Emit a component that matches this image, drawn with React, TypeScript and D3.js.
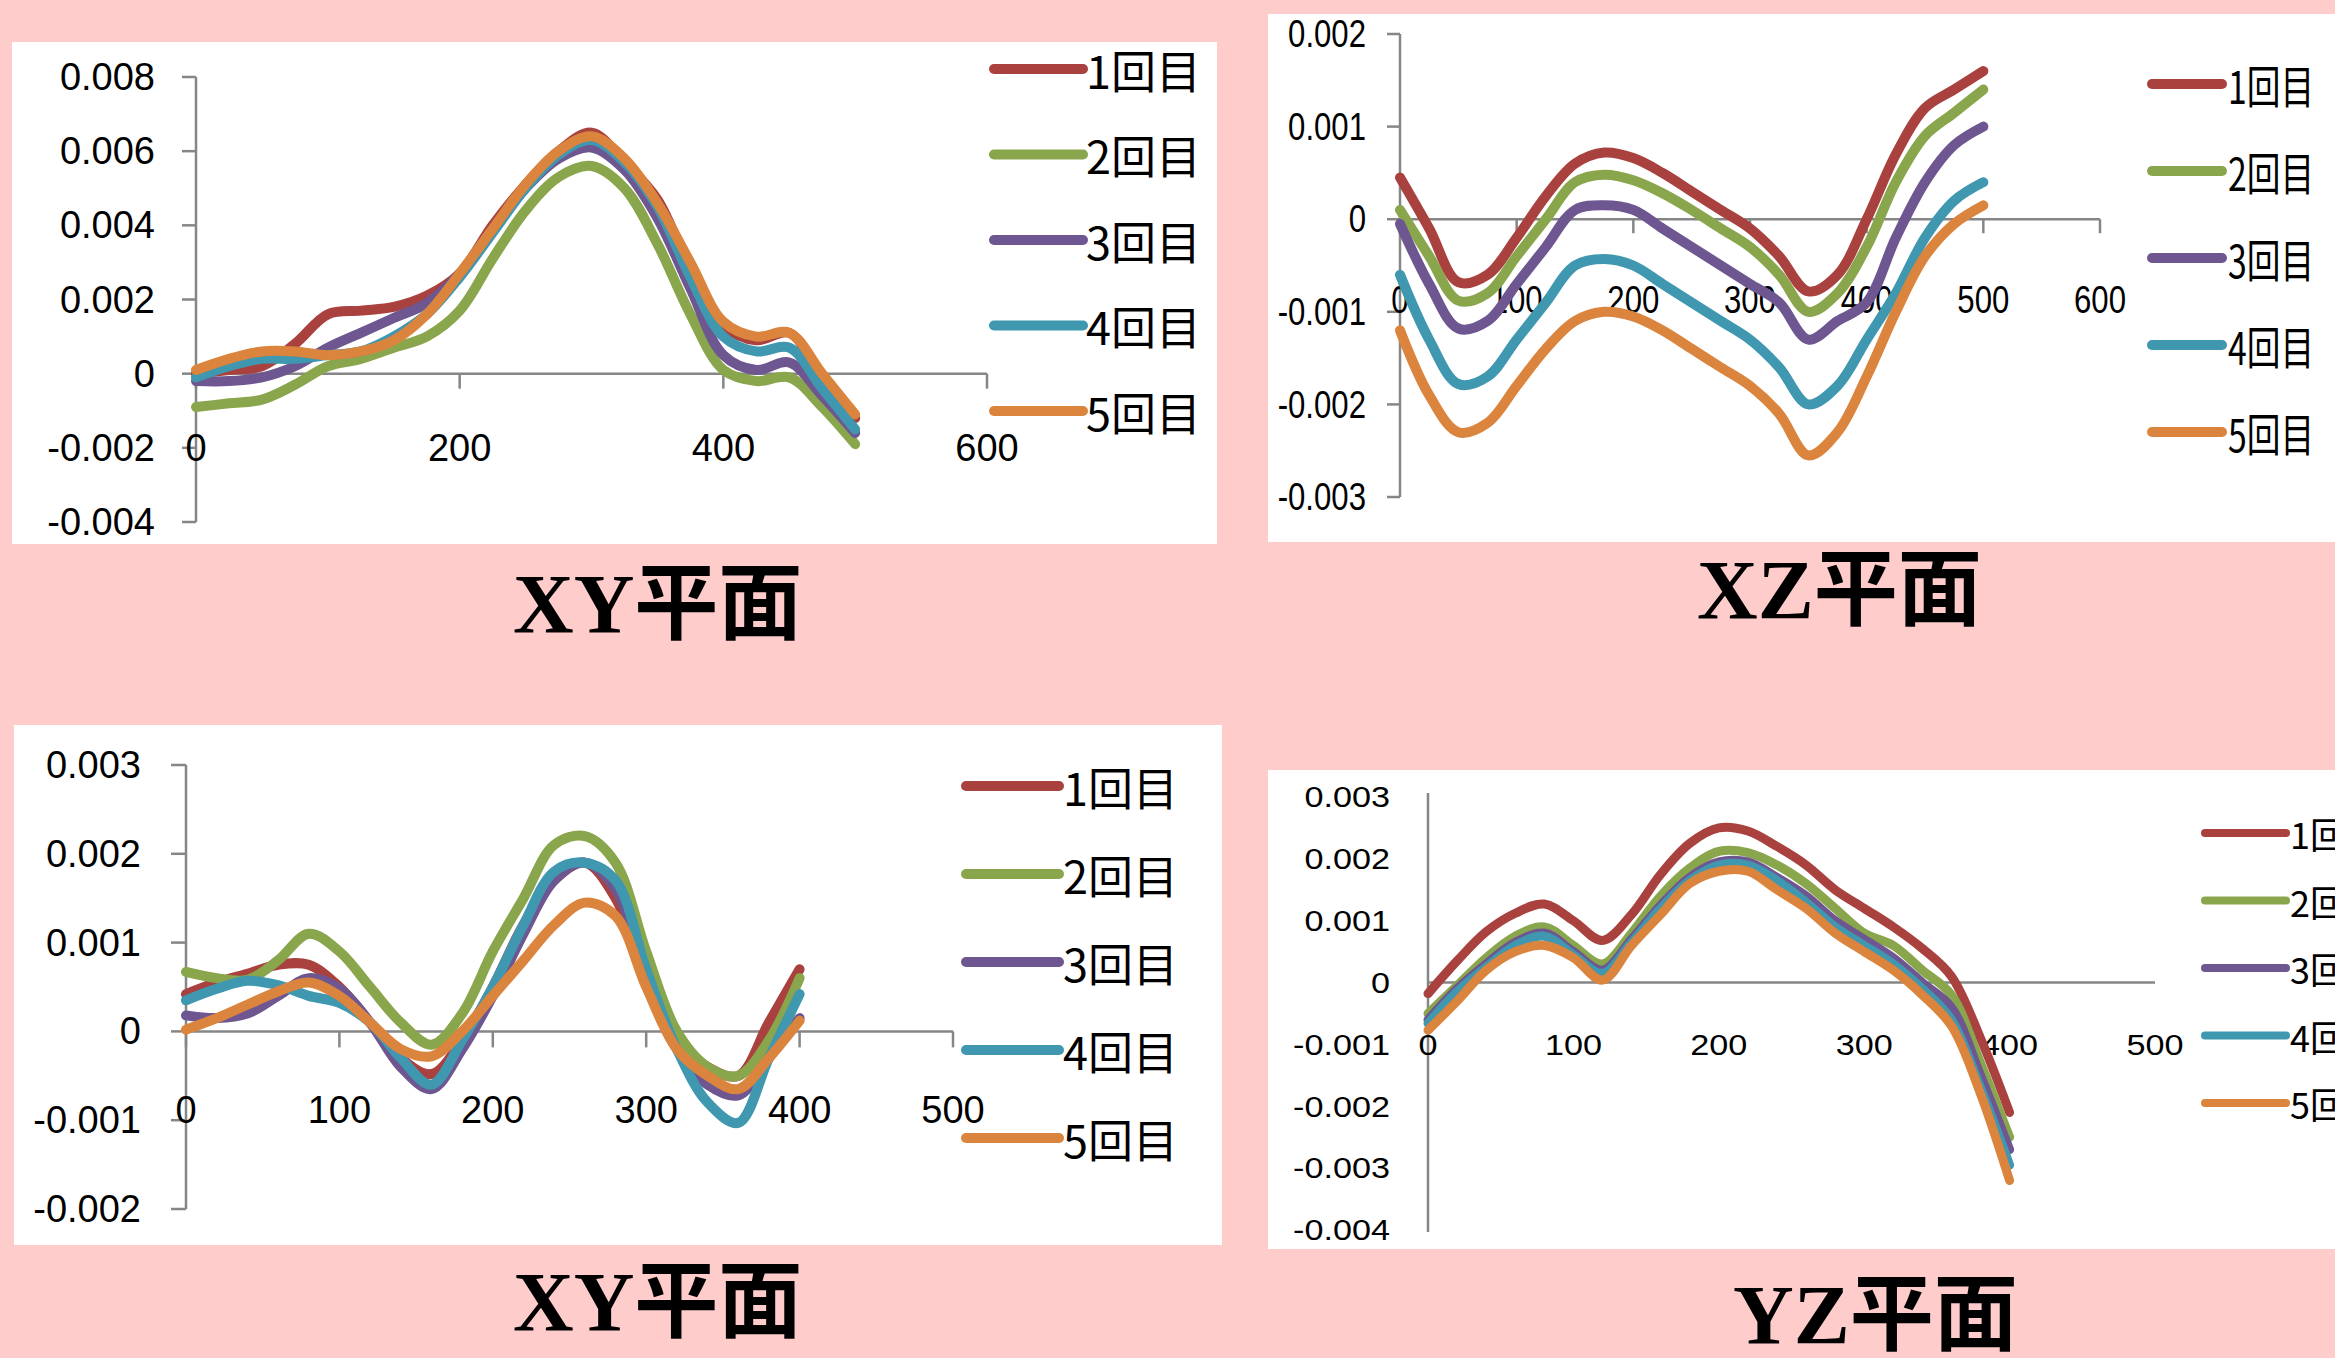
import React from "react";
import * as d3 from "d3";

// ---------- data ----------
const SERIES_NAMES = ["1回目", "2回目", "3回目", "4回目", "5回目"];
const COLORS = ["#A9423F", "#8AA64C", "#6E5691", "#3F97B0", "#DB843D"];

// Panel A : XY (top-left)
const A_X = [0, 25, 50, 75, 100, 125, 150, 175, 200, 225, 250, 275, 300, 325, 350, 375, 400, 425, 450, 475, 500];
const A_S1 = [0.0000, 0.0001, 0.0002, 0.0008, 0.0016, 0.0017, 0.0018, 0.0021, 0.0027, 0.0040, 0.0051, 0.0060, 0.0065, 0.0057, 0.0047, 0.0028, 0.0013, 0.0009, 0.0011, -0.0001, -0.0012];
const A_S2 = [-0.0009, -0.0008, -0.0007, -0.0003, 0.0002, 0.0004, 0.0007, 0.0010, 0.0017, 0.0031, 0.0044, 0.0053, 0.0056, 0.0050, 0.0035, 0.0016, 0.0001, -0.0002, -0.0001, -0.0009, -0.0019];
const A_S3 = [-0.0002, -0.0002, -0.0001, 0.0002, 0.0007, 0.0011, 0.0015, 0.0019, 0.0027, 0.0039, 0.0050, 0.0058, 0.0061, 0.0055, 0.0042, 0.0023, 0.0005, 0.0001, 0.0003, -0.0006, -0.0016];
const A_S4 = [-0.0001, 0.0002, 0.0004, 0.0004, 0.0005, 0.0006, 0.0010, 0.0016, 0.0026, 0.0038, 0.0050, 0.0059, 0.0063, 0.0057, 0.0045, 0.0026, 0.0010, 0.0006, 0.0007, -0.0004, -0.0015];
const A_S5 = [0.0001, 0.0004, 0.0006, 0.0006, 0.0005, 0.0006, 0.0009, 0.0016, 0.0027, 0.0039, 0.0051, 0.0060, 0.0064, 0.0058, 0.0046, 0.0030, 0.0014, 0.0010, 0.0011, 0.0000, -0.0011];
const A_XTICKS = [0, 200, 400, 600];
const A_YTICKS = [-0.004, -0.002, 0, 0.002, 0.004, 0.006, 0.008];

// Panel B : XZ (top-right)
const B_X = [0, 25, 50, 75, 100, 125, 150, 175, 200, 225, 250, 275, 300, 325, 350, 375, 400, 425, 450, 475, 500];
const B_S1 = [0.00045, -0.0001, -0.00068, -0.0006, -0.0002, 0.00025, 0.0006, 0.00072, 0.00066, 0.0005, 0.0003, 0.0001, -0.0001, -0.0004, -0.00078, -0.0006, 0.0000, 0.0007, 0.0012, 0.0014, 0.0016];
const B_S2 = [0.0001, -0.0004, -0.00088, -0.0008, -0.0004, 0.0000, 0.0004, 0.00048, 0.00042, 0.00028, 0.0001, -0.0001, -0.0003, -0.0006, -0.001, -0.0008, -0.0003, 0.0004, 0.0009, 0.00115, 0.0014];
const B_S3 = [-0.00005, -0.0007, -0.00118, -0.0011, -0.0007, -0.0003, 0.0001, 0.00015, 0.0001, -0.0001, -0.0003, -0.0005, -0.0007, -0.0009, -0.0013, -0.0011, -0.0009, -0.0002, 0.0004, 0.0008, 0.001];
const B_S4 = [-0.0006, -0.0013, -0.00178, -0.0017, -0.0013, -0.0009, -0.0005, -0.00043, -0.0005, -0.0007, -0.0009, -0.0011, -0.0013, -0.0016, -0.002, -0.0018, -0.0013, -0.0008, -0.0002, 0.0002, 0.0004];
const B_S5 = [-0.0012, -0.0019, -0.0023, -0.0022, -0.0018, -0.0014, -0.0011, -0.001, -0.00105, -0.0012, -0.0014, -0.0016, -0.0018, -0.0021, -0.00255, -0.0023, -0.0017, -0.001, -0.0004, -0.00005, 0.00015];
const B_XTICKS = [0, 100, 200, 300, 400, 500, 600];
const B_YTICKS = [-0.003, -0.002, -0.001, 0, 0.001, 0.002];

// Panel C : XY (bottom-left)
const C_X = [0, 20, 40, 60, 80, 100, 120, 140, 160, 180, 200, 220, 240, 260, 280, 300, 320, 340, 360, 380, 400];
const C_S1 = [0.00042, 0.00055, 0.00065, 0.00075, 0.00075, 0.0005, 0.0001, -0.0003, -0.00048, -0.0001, 0.0005, 0.0012, 0.0017, 0.0019, 0.0015, 0.0006, -0.0001, -0.0004, -0.0005, 0.0001, 0.0007];
const C_S2 = [0.00067, 0.0006, 0.00058, 0.0008, 0.0011, 0.0009, 0.0005, 0.0001, -0.00015, 0.0002, 0.0009, 0.0015, 0.0021, 0.0022, 0.0019, 0.0009, 0.0000, -0.0004, -0.0005, -0.0001, 0.0006];
const C_S3 = [0.00018, 0.00015, 0.0002, 0.0004, 0.0006, 0.00048, 0.0001, -0.0004, -0.00065, -0.0002, 0.0004, 0.0011, 0.0017, 0.0019, 0.0016, 0.0006, -0.0002, -0.0006, -0.00072, -0.0003, 0.00015];
const C_S4 = [0.00035, 0.00048, 0.00057, 0.00052, 0.0004, 0.00032, 0.0001, -0.0003, -0.0006, -0.0001, 0.0005, 0.0012, 0.0018, 0.0019, 0.0017, 0.0007, -0.0002, -0.0008, -0.00103, -0.0003, 0.00042];
const C_S5 = [0.00002, 0.00015, 0.0003, 0.00045, 0.00055, 0.0004, 0.0001, -0.0002, -0.00028, 0.0000, 0.0004, 0.0008, 0.0012, 0.00145, 0.0013, 0.0005, -0.0002, -0.0005, -0.00065, -0.0003, 0.00012];
const C_XTICKS = [0, 100, 200, 300, 400, 500];
const C_YTICKS = [-0.002, -0.001, 0, 0.001, 0.002, 0.003];

// Panel D : YZ (bottom-right)
const D_X = [0, 20, 40, 60, 80, 100, 120, 140, 160, 180, 200, 220, 240, 260, 280, 300, 320, 340, 360, 380, 400];
const D_S1 = [-0.00018, 0.00035, 0.00082, 0.00112, 0.00127, 0.001, 0.00068, 0.0011, 0.00175, 0.00225, 0.0025, 0.00245, 0.0022, 0.0019, 0.0015, 0.0012, 0.0009, 0.00055, 0.0001, -0.0009, -0.0021];
const D_S2 = [-0.0005, -0.00005, 0.0004, 0.00075, 0.0009, 0.0006, 0.0003, 0.0008, 0.0014, 0.00185, 0.00212, 0.0021, 0.0019, 0.0016, 0.0012, 0.0008, 0.0006, 0.0002, -0.0002, -0.0013, -0.0025];
const D_S3 = [-0.0006, -0.0001, 0.0003, 0.00065, 0.0008, 0.0005, 0.0002, 0.0007, 0.00125, 0.0017, 0.00195, 0.00195, 0.0017, 0.0014, 0.001, 0.0007, 0.0004, 0.0000, -0.0004, -0.0015, -0.0027];
const D_S4 = [-0.00066, -0.00015, 0.00025, 0.0006, 0.00075, 0.00045, 0.00015, 0.00065, 0.0012, 0.00165, 0.0019, 0.0019, 0.00165, 0.0013, 0.0009, 0.0006, 0.0003, -0.0001, -0.0006, -0.0017, -0.00295];
const D_S5 = [-0.00077, -0.0003, 0.0002, 0.0005, 0.0006, 0.0004, 0.00004, 0.0006, 0.0011, 0.0016, 0.0018, 0.0018, 0.0015, 0.0012, 0.0008, 0.0005, 0.0002, -0.0002, -0.0007, -0.0018, -0.0032];
const D_XTICKS = [0, 100, 200, 300, 400, 500];
const D_YTICKS = [-0.004, -0.003, -0.002, -0.001, 0, 0.001, 0.002, 0.003];

const TITLES = ["XY平面", "XZ平面", "XY平面", "YZ平面"];

// ---------- layout ----------
type Panel = {
  box: [number, number, number, number];
  xs: number[];
  series: number[][];
  xDomain: [number, number];
  xRange: [number, number];
  yDomain: [number, number];
  yRange: [number, number];
  xTicks: number[];
  yTicks: number[];
  tickLen: number;
  yLabelRight: number;
  xLabelY: number;
  fs: number;
  sx: number;
  lw: number;
  legend: { x0: number; x1: number; tx: number; y0: number; dy: number; fs: number; sx: number; lw: number };
  title: { x: number; y: number };
  titleText: string;
};

const panels: Panel[] = [
  {
    box: [12, 42, 1217, 544],
    xs: A_X,
    series: [A_S1, A_S2, A_S3, A_S4, A_S5],
    xDomain: [0, 600], xRange: [196, 987],
    yDomain: [-0.004, 0.008], yRange: [522, 77],
    xTicks: A_XTICKS, yTicks: A_YTICKS, tickLen: 14,
    yLabelRight: 155, xLabelY: 448, fs: 38, sx: 1, lw: 10,
    legend: { x0: 994, x1: 1083, tx: 1086, y0: 69, dy: 85.5, fs: 45, sx: 1, lw: 10 },
    title: { x: 513, y: 633 }, titleText: TITLES[0],
  },
  {
    box: [1268, 14, 2335, 542],
    xs: B_X,
    series: [B_S1, B_S2, B_S3, B_S4, B_S5],
    xDomain: [0, 600], xRange: [1400, 2100],
    yDomain: [-0.003, 0.002], yRange: [497, 34],
    xTicks: B_XTICKS, yTicks: B_YTICKS, tickLen: 13,
    yLabelRight: 1366, xLabelY: 300, fs: 38, sx: 0.82, lw: 10,
    legend: { x0: 2152, x1: 2222, tx: 2228, y0: 84, dy: 87, fs: 45, sx: 0.75, lw: 10 },
    title: { x: 1697, y: 619 }, titleText: TITLES[1],
  },
  {
    box: [14, 725, 1222, 1245],
    xs: C_X,
    series: [C_S1, C_S2, C_S3, C_S4, C_S5],
    xDomain: [0, 500], xRange: [186, 953],
    yDomain: [-0.002, 0.003], yRange: [1209, 765],
    xTicks: C_XTICKS, yTicks: C_YTICKS, tickLen: 15,
    yLabelRight: 141, xLabelY: 1110, fs: 38, sx: 1, lw: 10,
    legend: { x0: 966, x1: 1059, tx: 1063, y0: 786, dy: 88, fs: 45, sx: 1, lw: 10 },
    title: { x: 513, y: 1331 }, titleText: TITLES[2],
  },
  {
    box: [1268, 770, 2335, 1249],
    xs: D_X,
    series: [D_S1, D_S2, D_S3, D_S4, D_S5],
    xDomain: [0, 500], xRange: [1428, 2155],
    yDomain: [-0.004, 0.003], yRange: [1230, 797],
    xTicks: D_XTICKS, yTicks: D_YTICKS, tickLen: 0,
    yLabelRight: 1390, xLabelY: 1045, fs: 30, sx: 1.14, lw: 9,
    legend: { x0: 2205, x1: 2286, tx: 2290, y0: 833, dy: 67.5, fs: 36, sx: 1, lw: 8 },
    title: { x: 1733, y: 1344 }, titleText: TITLES[3],
  },
];

const fmt = (v: number) => (v === 0 ? "0" : v.toFixed(3));
const AXIS = "#868686";
const SANS = "'Liberation Sans', Arial, sans-serif";
const CJK = "'Noto Sans CJK JP', 'Noto Sans CJK SC', sans-serif";

function T(props: { x: number; y: number; sx: number; anchor: string; fs: number; family: string; children: any; weight?: string; baseline?: string }) {
  return (
    <text
      transform={`translate(${props.x},${props.y}) scale(${props.sx},1)`}
      textAnchor={props.anchor as any}
      dominantBaseline={(props.baseline || "central") as any}
      fontSize={props.fs}
      fontFamily={props.family}
      fontWeight={props.weight || "normal"}
      fill="#000"
    >
      {props.children}
    </text>
  );
}

function PanelView({ p }: { p: Panel }) {
  const x = d3.scaleLinear().domain(p.xDomain).range(p.xRange);
  const y = d3.scaleLinear().domain(p.yDomain).range(p.yRange);
  const line = d3
    .line<number>()
    .x((_, i) => x(p.xs[i]))
    .y((d) => y(d))
    .curve(d3.curveCatmullRom.alpha(0.5));
  const [bx0, by0, bx1, by1] = p.box;
  const y0 = y(0);
  return (
    <g>
      <rect x={bx0} y={by0} width={bx1 - bx0} height={by1 - by0} fill="#fff" />
      {/* y axis */}
      <line x1={x(0)} x2={x(0)} y1={y(p.yDomain[1]) - (p.tickLen ? 0 : 4)} y2={y(p.yDomain[0]) + (p.tickLen ? 0 : 2)} stroke={AXIS} strokeWidth={2.5} />
      {p.tickLen > 0 &&
        p.yTicks.map((t) => (
          <line key={"yt" + t} x1={x(0) - p.tickLen} x2={x(0)} y1={y(t)} y2={y(t)} stroke={AXIS} strokeWidth={2.5} />
        ))}
      {/* x axis */}
      <line x1={x(0)} x2={x(p.xDomain[1])} y1={y0} y2={y0} stroke={AXIS} strokeWidth={2.5} />
      {p.tickLen > 0 &&
        p.xTicks.map((t) => (
          <line key={"xt" + t} x1={x(t)} x2={x(t)} y1={y0} y2={y0 + p.tickLen + 1} stroke={AXIS} strokeWidth={2.5} />
        ))}
      {/* tick labels */}
      {p.yTicks.map((t) => (
        <T key={"yl" + t} x={p.yLabelRight} y={y(t)} sx={p.sx} anchor="end" fs={p.fs} family={SANS}>
          {fmt(t)}
        </T>
      ))}
      {p.xTicks.map((t) => (
        <T key={"xl" + t} x={x(t)} y={p.xLabelY} sx={p.sx} anchor="middle" fs={p.fs} family={SANS}>
          {String(t)}
        </T>
      ))}
      {/* series */}
      {p.series.map((s, i) => (
        <path key={"s" + i} d={line(s) || ""} fill="none" stroke={COLORS[i]} strokeWidth={p.lw} strokeLinejoin="round" strokeLinecap="round" />
      ))}
      {/* legend */}
      {SERIES_NAMES.map((name, i) => {
        const ly = p.legend.y0 + i * p.legend.dy;
        return (
          <g key={"lg" + i}>
            <line x1={p.legend.x0} x2={p.legend.x1} y1={ly} y2={ly} stroke={COLORS[i]} strokeWidth={p.legend.lw} strokeLinecap="round" />
            <T x={p.legend.tx} y={ly} sx={p.legend.sx} anchor="start" fs={p.legend.fs} family={CJK}>
              {name}
            </T>
          </g>
        );
      })}
    </g>
  );
}

export default function App() {
  return (
    <svg
      width={2335}
      height={1358}
      viewBox="0 0 2335 1358"
      style={{ position: "absolute", left: 0, top: 0, display: "block" }}
    >
      <rect x={0} y={0} width={2335} height={1358} fill="#FFCCCC" />
      {panels.map((p, i) => (
        <PanelView key={i} p={p} />
      ))}
      {panels.map((p, i) => (
        <text
          key={"title" + i}
          x={p.title.x}
          y={p.title.y}
          fontSize={84}
          fontWeight="bold"
          fontFamily={"'Liberation Serif', 'Times New Roman', 'Noto Sans CJK JP', serif"}
          fill="#000"
        >
          {p.titleText}
        </text>
      ))}
    </svg>
  );
}
